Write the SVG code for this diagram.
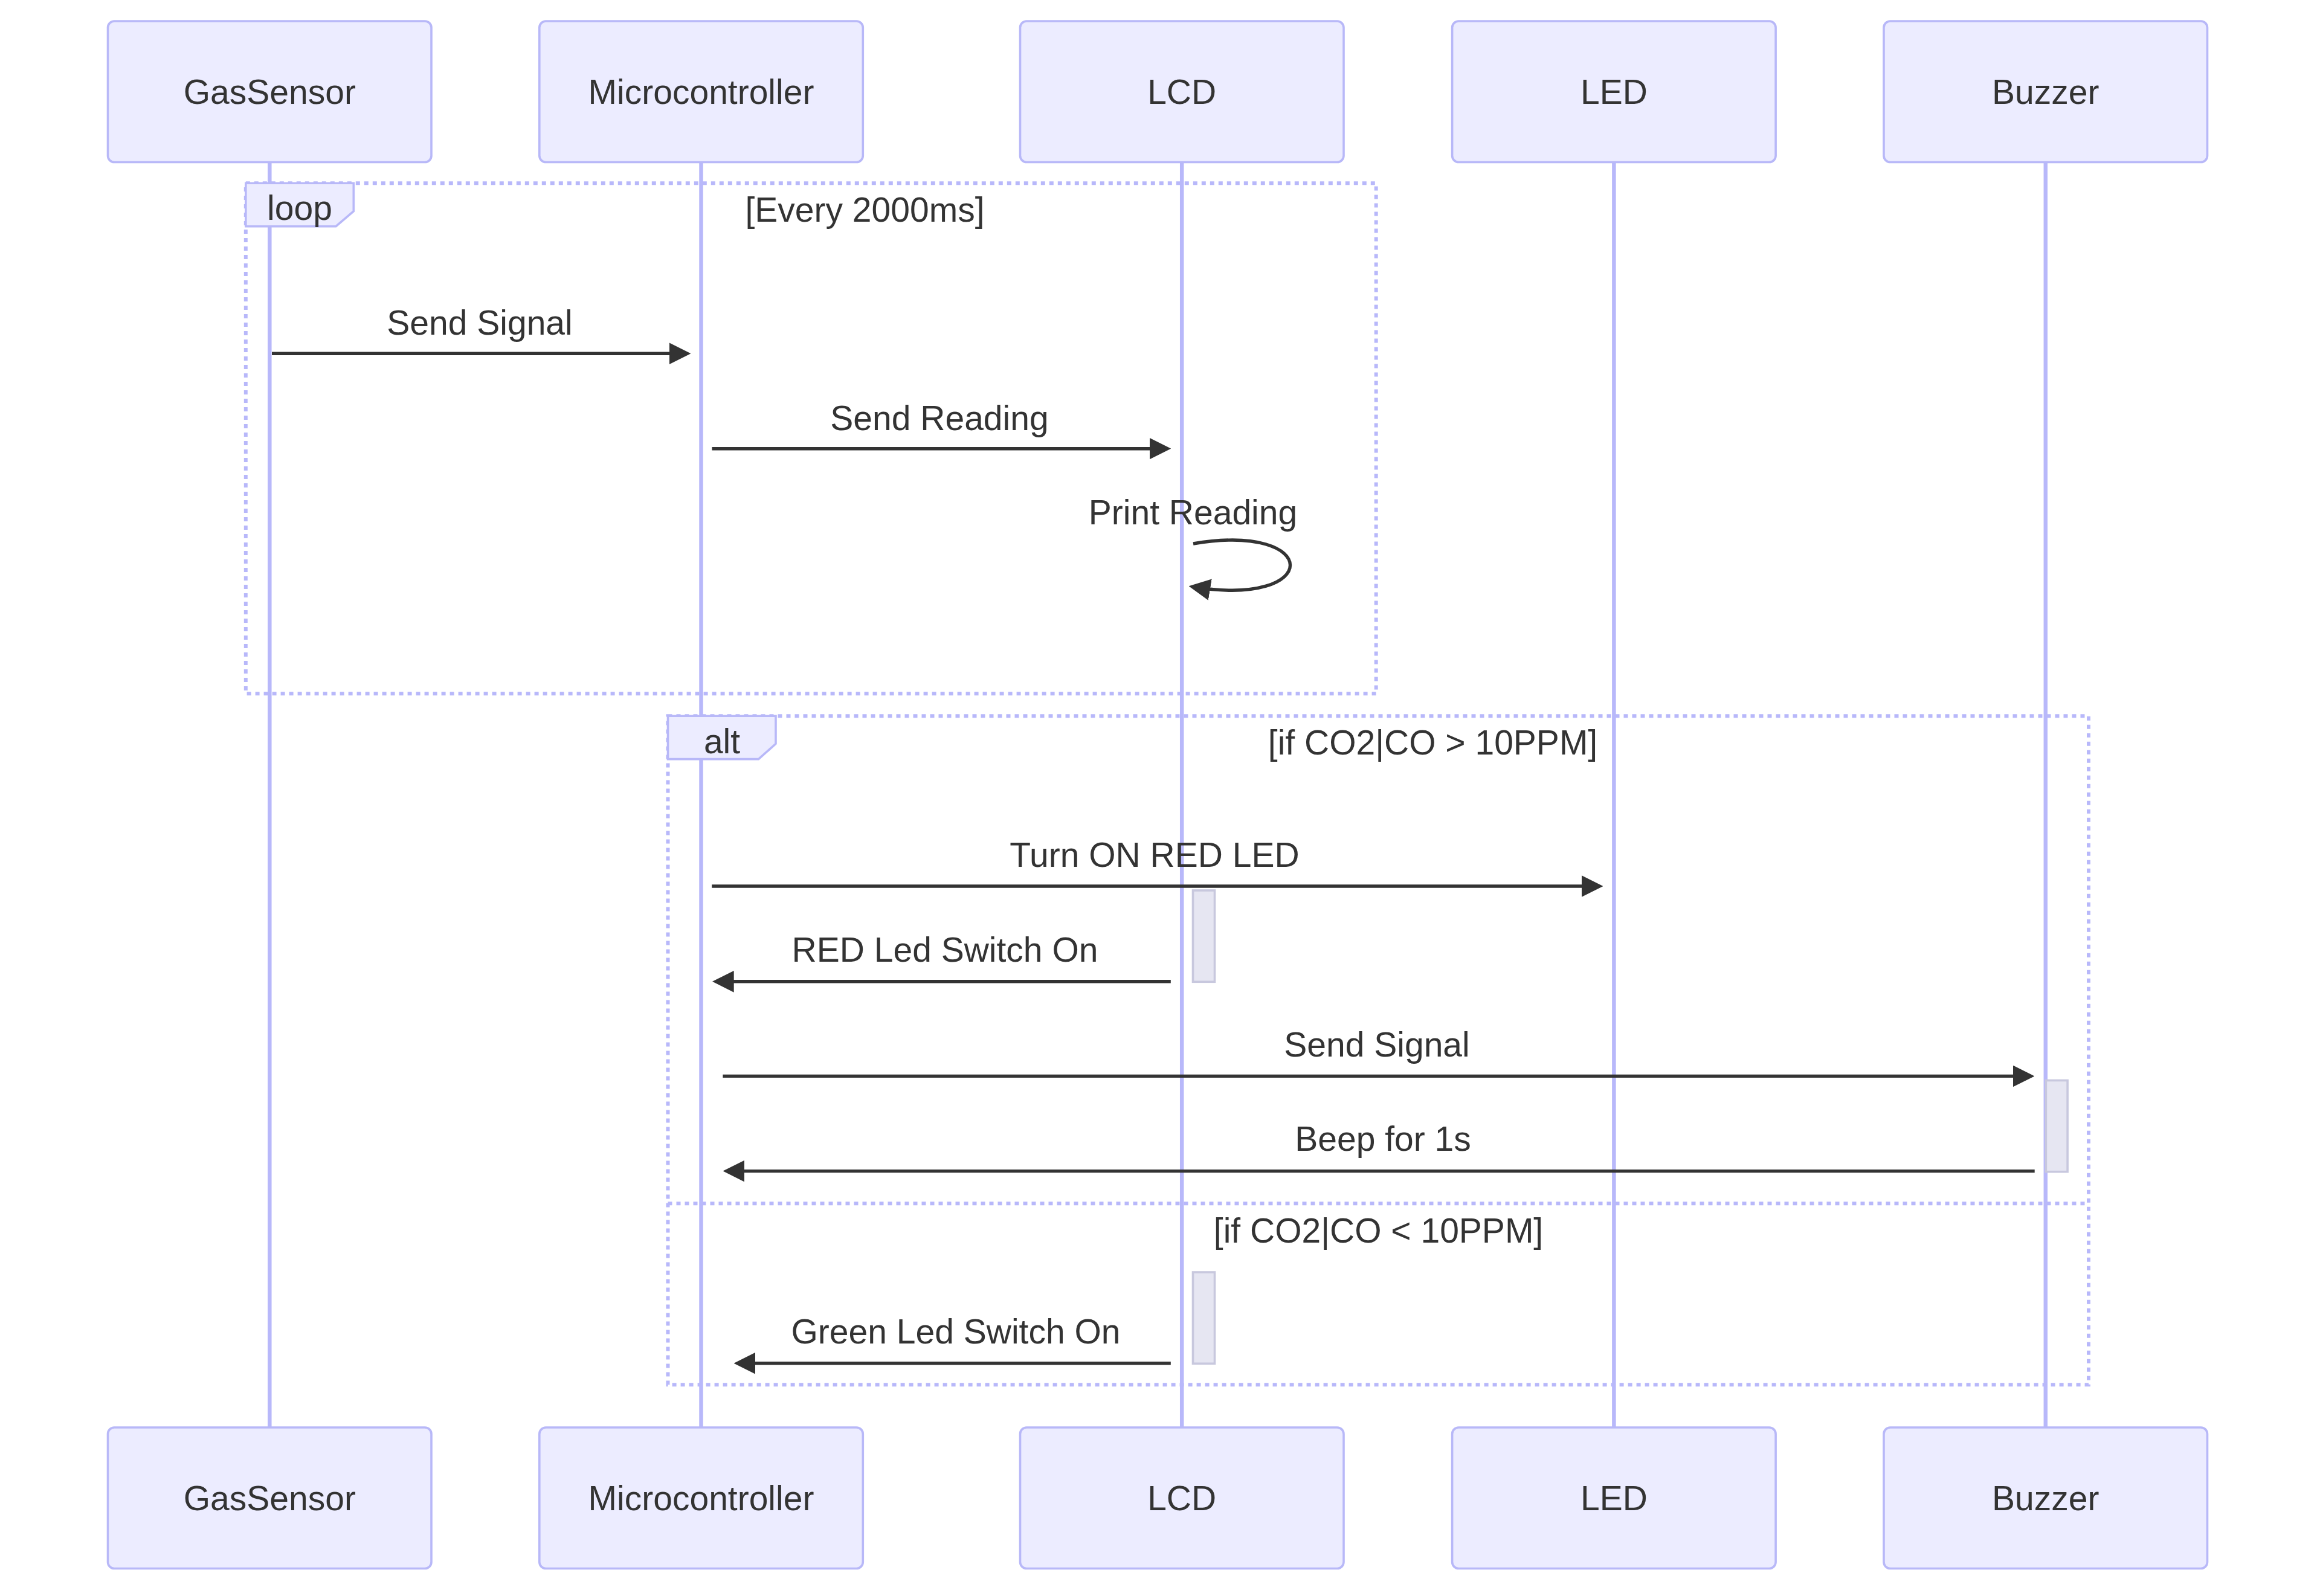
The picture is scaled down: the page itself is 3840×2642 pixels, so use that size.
<svg xmlns="http://www.w3.org/2000/svg" width="3840" height="2642" viewBox="0 0 3840 2642">
<style>
.bg{fill:#ffffff}
.actor{fill:#ECECFF;stroke:#B8B8F8;stroke-width:3.6}
.atext{font-family:"Liberation Sans",Arial,sans-serif;font-size:57px;fill:#333333;text-anchor:middle;dominant-baseline:central}
.life{stroke:#B8B8FA;stroke-width:6.5}
.frame{fill:none;stroke:#B8B8FA;stroke-width:6;stroke-dasharray:7,7}
.lbox{fill:#ECECFF;stroke:#B8B8F8;stroke-width:3.6}
.ltext{font-family:"Liberation Sans",Arial,sans-serif;font-size:57px;fill:#333333;text-anchor:middle}
.msg{stroke:#333333;stroke-width:5.4;fill:none;marker-end:url(#arrowhead)}
.mtext{font-family:"Liberation Sans",Arial,sans-serif;font-size:57px;fill:#333333;text-anchor:middle}
.act{fill:#E6E6F2;stroke:#C8C8DE;stroke-width:3.6}
</style>
<defs>
<marker id="arrowhead" viewBox="0 0 10 10" refX="7.9" refY="5" markerUnits="userSpaceOnUse" markerWidth="35.7" markerHeight="35.7" orient="auto">
<path d="M 0 0 L 10 5 L 0 10 z" fill="#333333"/>
</marker>
</defs>
<rect class="bg" x="0" y="0" width="3840" height="2642"/>
<g id="lifelines">
<line class="life" x1="446.3" y1="268.5" x2="446.3" y2="2363"/>
<line class="life" x1="1160.5" y1="268.5" x2="1160.5" y2="2363"/>
<line class="life" x1="1956.2" y1="268.5" x2="1956.2" y2="2363"/>
<line class="life" x1="2671.4" y1="268.5" x2="2671.4" y2="2363"/>
<line class="life" x1="3385.8" y1="268.5" x2="3385.8" y2="2363"/>
</g>
<g id="loop-frame">
<rect class="frame" x="406.8" y="303.3" width="1870.9" height="845"/>
<path class="lbox" d="M 406.8 303.3 L 585.3 303.3 L 585.3 349.7 L 556 374.7 L 406.8 374.7 Z"/>
<text class="ltext" x="496" y="363.6">loop</text>
<text class="ltext" x="1431.5" y="366.7">[Every 2000ms]</text>
</g>
<g id="alt-frame">
<rect class="frame" x="1105.5" y="1185.2" width="2351.5" height="1107.1"/>
<line class="frame" x1="1105.5" y1="1992.3" x2="3457" y2="1992.3"/>
<path class="lbox" d="M 1105.5 1185.2 L 1284 1185.2 L 1284 1231.3 L 1255.5 1256.6 L 1105.5 1256.6 Z"/>
<text class="ltext" x="1195" y="1246.5">alt</text>
<text class="ltext" x="2371.5" y="1249">[if CO2|CO &gt; 10PPM]</text>
<text class="ltext" x="2281.5" y="2056.7">[if CO2|CO &lt; 10PPM]</text>
</g>
<g id="activations">
<rect class="act" x="1974.5" y="1474" width="36" height="151.3"/>
<rect class="act" x="3386.4" y="1788.5" width="35.7" height="151.2"/>
<rect class="act" x="1974.5" y="2106" width="36" height="151.3"/>
</g>
<g id="connectors">
<line class="msg" x1="450" y1="585.2" x2="1136" y2="585.2"/>
<text class="mtext" x="794" y="554">Send Signal</text>
<line class="msg" x1="1178.5" y1="742.7" x2="1930.8" y2="742.7"/>
<text class="mtext" x="1555" y="711.5">Send Reading</text>
<path class="msg" d="M 1975 900 C 2189 864, 2189 1007, 1975 971.4"/>
<text class="mtext" x="1974.5" y="867.7">Print Reading</text>
<line class="msg" x1="1178.2" y1="1467" x2="2646" y2="1467"/>
<text class="mtext" x="1911" y="1434.5">Turn ON RED LED</text>
<line class="msg" x1="1937.8" y1="1624.8" x2="1186.5" y2="1624.8"/>
<text class="mtext" x="1564" y="1592">RED Led Switch On</text>
<line class="msg" x1="1196.4" y1="1781.4" x2="3360" y2="1781.4"/>
<text class="mtext" x="2279" y="1749">Send Signal</text>
<line class="msg" x1="3367.7" y1="1938.6" x2="1204" y2="1938.6"/>
<text class="mtext" x="2289" y="1905">Beep for 1s</text>
<line class="msg" x1="1937.8" y1="2256.7" x2="1222" y2="2256.7"/>
<text class="mtext" x="1582" y="2223.5">Green Led Switch On</text>
</g>
<g id="GasSensor">
<rect class="actor" x="178.5" y="35" width="535.5" height="233.5" rx="10.7" ry="10.7"/>
<text class="atext" x="446.3" y="151.8">GasSensor</text>
</g>
<g id="Microcontroller">
<rect class="actor" x="892.8" y="35" width="535.5" height="233.5" rx="10.7" ry="10.7"/>
<text class="atext" x="1160.5" y="151.8">Microcontroller</text>
</g>
<g id="LCD">
<rect class="actor" x="1688.5" y="35" width="535.5" height="233.5" rx="10.7" ry="10.7"/>
<text class="atext" x="1956.2" y="151.8">LCD</text>
</g>
<g id="LED">
<rect class="actor" x="2403.6" y="35" width="535.5" height="233.5" rx="10.7" ry="10.7"/>
<text class="atext" x="2671.4" y="151.8">LED</text>
</g>
<g id="Buzzer">
<rect class="actor" x="3118" y="35" width="535.5" height="233.5" rx="10.7" ry="10.7"/>
<text class="atext" x="3385.8" y="151.8">Buzzer</text>
</g>
<g id="GasSensor-bottom">
<rect class="actor" x="178.5" y="2363" width="535.5" height="233.5" rx="10.7" ry="10.7"/>
<text class="atext" x="446.3" y="2479.8">GasSensor</text>
</g>
<g id="Microcontroller-bottom">
<rect class="actor" x="892.8" y="2363" width="535.5" height="233.5" rx="10.7" ry="10.7"/>
<text class="atext" x="1160.5" y="2479.8">Microcontroller</text>
</g>
<g id="LCD-bottom">
<rect class="actor" x="1688.5" y="2363" width="535.5" height="233.5" rx="10.7" ry="10.7"/>
<text class="atext" x="1956.2" y="2479.8">LCD</text>
</g>
<g id="LED-bottom">
<rect class="actor" x="2403.6" y="2363" width="535.5" height="233.5" rx="10.7" ry="10.7"/>
<text class="atext" x="2671.4" y="2479.8">LED</text>
</g>
<g id="Buzzer-bottom">
<rect class="actor" x="3118" y="2363" width="535.5" height="233.5" rx="10.7" ry="10.7"/>
<text class="atext" x="3385.8" y="2479.8">Buzzer</text>
</g>
</svg>
